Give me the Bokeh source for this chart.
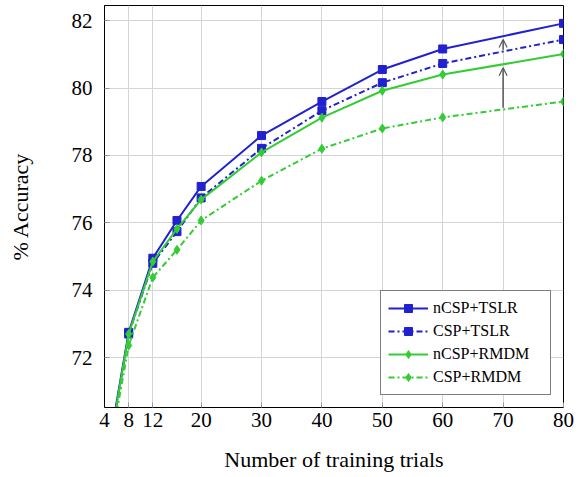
from bokeh.plotting import figure
from bokeh.models import (Range1d, FixedTicker, Legend, LegendItem, Arrow, OpenHead)
from bokeh.embed import file_html
from bokeh.resources import INLINE

# Data
trials = [4, 8, 12, 16, 20, 30, 40, 50, 60, 80]
ncsp_tslr = [68.6, 72.75, 74.95, 76.07, 77.08, 78.59, 79.6, 80.55, 81.16, 81.92]
csp_tslr = [68.5, 72.70, 74.80, 75.74, 76.74, 78.21, 79.33, 80.16, 80.73, 81.44]
ncsp_rmdm = [68.5, 72.70, 74.85, 75.82, 76.69, 78.09, 79.12, 79.92, 80.40, 81.01]
csp_rmdm = [68.35, 72.36, 74.38, 75.20, 76.07, 77.25, 78.20, 78.80, 79.13, 79.60]
x_ticks = [4, 8, 12, 20, 30, 40, 50, 60, 70, 80]
y_ticks = [72, 74, 76, 78, 80, 82]

BLUE = "#2121cf"
GREEN = "#34cc34"
FONT = "Liberation Serif"

p = figure(width=587, height=477, output_backend="svg", toolbar_location=None,
           x_range=Range1d(4, 80), y_range=Range1d(70.52, 82.45),
           min_border_left=104, min_border_right=24, min_border_top=5, min_border_bottom=70)

p.xaxis.ticker = FixedTicker(ticks=x_ticks)
p.yaxis.ticker = FixedTicker(ticks=y_ticks)
for ax in (p.xaxis, p.yaxis):
    ax.major_label_text_font = FONT
    ax.major_label_text_font_size = "21px"
    ax.major_label_text_color = "black"
    ax.axis_label_text_font = FONT
    ax.axis_label_text_font_size = "22px"
    ax.axis_label_text_font_style = "normal"
    ax.axis_label_text_color = "black"
    ax.axis_line_color = "black"
    ax.major_tick_in = 5
    ax.major_tick_out = 0
    ax.major_tick_line_color = "#999999"
    ax.minor_tick_line_color = None
p.xaxis.axis_label = "Number of training trials"
p.yaxis.axis_label = "% Accuracy"
p.xaxis.major_label_standoff = 5
p.yaxis.major_label_standoff = 12
p.xaxis.axis_label_standoff = 17
p.yaxis.axis_label_standoff = 36

p.xgrid.ticker = FixedTicker(ticks=x_ticks)
p.ygrid.ticker = FixedTicker(ticks=y_ticks)
p.grid.grid_line_color = "#d4d4d4"
p.grid.grid_line_width = 1
p.outline_line_color = "black"
p.outline_line_width = 1
p.background_fill_color = "white"
p.border_fill_color = "white"

dash = "6 3 2 3"
r1l = p.line(trials, ncsp_tslr, color=BLUE, line_width=2)
r1m = p.scatter(trials, ncsp_tslr, marker="square", size=8, color=BLUE)
r2l = p.line(trials, csp_tslr, color=BLUE, line_width=2, line_dash=dash)
r2m = p.scatter(trials, csp_tslr, marker="square", size=8, color=BLUE)
r3l = p.line(trials, ncsp_rmdm, color=GREEN, line_width=2)
r3m = p.scatter(trials, ncsp_rmdm, marker="diamond", size=9, color=GREEN)
r4l = p.line(trials, csp_rmdm, color=GREEN, line_width=2, line_dash=dash)
r4m = p.scatter(trials, csp_rmdm, marker="diamond", size=9, color=GREEN)

# arrows at x = 70 showing improvement (midpoints between 60 and 80)
def mid(s):
    return (s[-2] + s[-1]) / 2
p.add_layout(Arrow(end=OpenHead(size=8, line_color="#555555", line_width=1.2),
                   x_start=70, y_start=mid(csp_rmdm) + 0.05, x_end=70, y_end=mid(ncsp_rmdm) - 0.1,
                   line_color="#555555", line_width=1.5))
p.add_layout(Arrow(end=OpenHead(size=8, line_color="#555555", line_width=1.2),
                   x_start=70, y_start=mid(csp_tslr) + 0.05, x_end=70, y_end=mid(ncsp_tslr) - 0.1,
                   line_color="#555555", line_width=1.5))

legend = Legend(items=[
    LegendItem(label="nCSP+TSLR", renderers=[r1l, r1m]),
    LegendItem(label="CSP+TSLR", renderers=[r2l, r2m]),
    LegendItem(label="nCSP+RMDM", renderers=[r3l, r3m]),
    LegendItem(label="CSP+RMDM", renderers=[r4l, r4m]),
], location="bottom_right")
legend.label_text_font = FONT
legend.label_text_font_size = "16px"
legend.label_text_color = "black"
legend.glyph_width = 40
legend.glyph_height = 20
legend.label_height = 20
legend.label_width = 110
legend.spacing = 3
legend.padding = 7
legend.margin = 12
legend.label_standoff = 5
legend.border_line_color = "black"
legend.border_line_width = 1
legend.background_fill_alpha = 1
p.add_layout(legend)

open("out.html", "w").write(file_html(p, INLINE))
